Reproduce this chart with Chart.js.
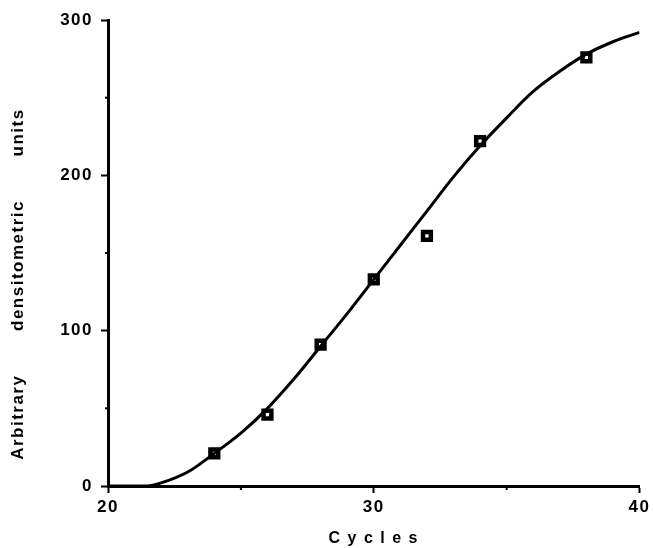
<!DOCTYPE html>
<html>
<head>
<meta charset="utf-8">
<script src="https://cdn.jsdelivr.net/npm/chart.js@4"></script>
<style>
  html, body { margin: 0; padding: 0; background: #fff; }
  #wrap { width: 653px; height: 548px; }
</style>
</head>
<body>
<div id="wrap"><canvas id="chart" width="653" height="548"></canvas></div>
<script>
// measured points
const cycles = [24, 26, 28, 30, 32, 34, 38];
const units = [21, 46, 91, 133, 161, 222, 276];

// fitted curve
const curveX = [20, 21, 21.5, 22, 23, 24, 25, 26, 27, 28, 29, 30, 31, 32, 33, 34, 35, 36, 37, 38, 39, 40];
const curveY = [0, 0, 0, 2, 9, 21, 34, 50, 69, 90, 111, 133, 155, 177, 199, 219, 237, 254, 267, 278, 286, 292];

const xTicks = [20, 30, 40];
const xMinor = [25, 35];
const yTicks = [0, 100, 200, 300];
const yMinor = [50, 150, 250];

const family = "'Liberation Sans', Arial, sans-serif";

const minorTicks = {
    id: 'minorTicks',
    beforeDraw(chart) {
        chart.ctx.letterSpacing = '1.5px';
    },
    afterDraw(chart) {
        const ctx = chart.ctx;
        const xs = chart.scales.x, ys = chart.scales.y;
        ctx.save();
        ctx.strokeStyle = '#000';
        ctx.lineWidth = 2;
        xMinor.forEach(v => {
            const px = xs.getPixelForValue(v);
            ctx.beginPath();
            ctx.moveTo(px, ys.bottom);
            ctx.lineTo(px, ys.bottom + 4);
            ctx.stroke();
        });
        yMinor.forEach(v => {
            const py = ys.getPixelForValue(v);
            ctx.beginPath();
            ctx.moveTo(xs.left, py);
            ctx.lineTo(xs.left - 3, py);
            ctx.stroke();
        });
        ctx.restore();
    }
};

new Chart(document.getElementById('chart'), {
    type: 'scatter',
    data: {
        datasets: [
            {
                label: 'curve',
                data: curveX.map((x, i) => ({ x: x, y: curveY[i] })),
                showLine: true,
                borderColor: '#000',
                borderWidth: 3,
                pointRadius: 0,
                cubicInterpolationMode: 'monotone'
            },
            {
                label: 'measured',
                data: cycles.map((x, i) => ({ x: x, y: units[i] })),
                pointStyle: 'rect',
                pointRadius: 5.5,
                pointBackgroundColor: '#fff',
                pointBorderColor: '#000',
                pointBorderWidth: 4.5
            }
        ]
    },
    plugins: [minorTicks],
    options: {
        responsive: false,
        animation: false,
        layout: { padding: { top: 20, right: 13, left: 0, bottom: 0 } },
        plugins: {
            legend: { display: false },
            tooltip: { enabled: false }
        },
        scales: {
            x: {
                type: 'linear',
                min: 20,
                max: 40,
                afterBuildTicks: s => { s.ticks = xTicks.map(v => ({ value: v })); },
                afterFit: s => { s.height = 62; },
                border: { color: '#000', width: 3 },
                grid: { drawOnChartArea: false, drawTicks: true, tickLength: 7, tickWidth: 2, color: '#000' },
                ticks: { color: '#000', font: { family: family, size: 17, weight: 'bold' }, padding: 4 },
                title: {
                    display: true,
                    text: 'C y c l e s',
                    color: '#000',
                    font: { family: family, size: 16, weight: 'bold' },
                    padding: { top: 4, bottom: 0 }
                }
            },
            y: {
                min: 0,
                max: 300,
                afterBuildTicks: s => { s.ticks = yTicks.map(v => ({ value: v })); },
                afterFit: s => { s.width = 108; },
                border: { color: '#000', width: 3 },
                grid: { drawOnChartArea: false, drawTicks: true, tickLength: 7, tickWidth: 2, color: '#000' },
                ticks: { color: '#000', font: { family: family, size: 17, weight: 'bold' }, padding: 8 },
                title: {
                    display: true,
                    text: 'Arbitrary       densitometric       units          ',
                    color: '#000',
                    font: { family: family, size: 17, weight: 'bold' },
                    padding: { top: 8, bottom: 4 }
                }
            }
        }
    }
});
</script>
</body>
</html>
